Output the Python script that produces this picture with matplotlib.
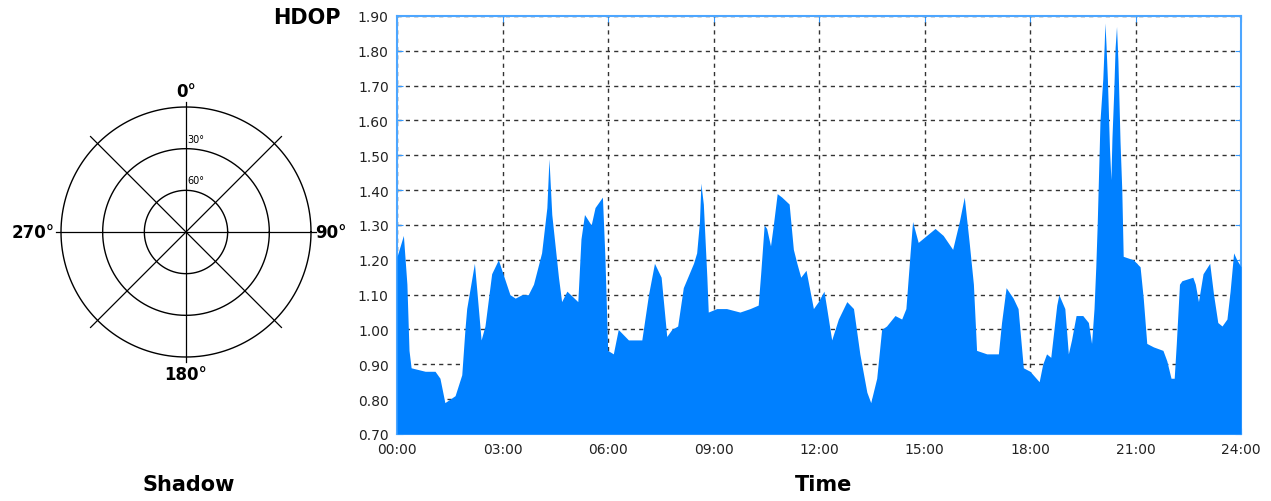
"""
HDOP over one day next to an empty sky-view (shadow) plot.
"""

import numpy as np
import matplotlib
matplotlib.use("Agg")
import matplotlib.pyplot as plt

# time of day in hours and the HDOP read at that time
hours = [0, 0.18, 0.28, 0.34, 0.40, 0.80, 1.08, 1.22, 1.36, 1.65, 1.84, 1.93, 1.98,
         2.20, 2.27, 2.39, 2.50, 2.69, 2.88, 3.21, 3.36, 3.55, 3.73, 3.88, 4.11, 4.26,
         4.32, 4.40, 4.59, 4.68, 4.83, 5.14, 5.23, 5.33, 5.52, 5.63, 5.84, 5.91, 5.99,
         6.15, 6.29, 6.58, 6.77, 6.96, 7.15, 7.32, 7.51, 7.67, 7.81, 7.98, 8.14, 8.43,
         8.52, 8.60, 8.64, 8.71, 8.81, 8.85, 9.09, 9.37, 9.75, 10.04, 10.27, 10.34,
         10.44, 10.51, 10.62, 10.70, 10.81, 10.94, 11.15, 11.27, 11.37, 11.48, 11.63,
         11.84, 11.98, 12.14, 12.22, 12.36, 12.55, 12.79, 12.98, 13.16, 13.36, 13.47,
         13.64, 13.78, 13.92, 14.16, 14.35, 14.47, 14.59, 14.66, 14.82, 15.06, 15.30,
         15.53, 15.80, 15.99, 16.13, 16.27, 16.39, 16.48, 16.77, 17.10, 17.19, 17.32,
         17.52, 17.66, 17.81, 18.00, 18.26, 18.36, 18.47, 18.59, 18.76, 18.82, 18.99,
         19.09, 19.18, 19.31, 19.50, 19.66, 19.75, 19.82, 19.87, 19.91, 19.99, 20.07,
         20.11, 20.13, 20.16, 20.20, 20.26, 20.30, 20.33, 20.38, 20.42, 20.46, 20.50,
         20.56, 20.61, 20.65, 20.94, 21.13, 21.22, 21.32, 21.51, 21.78, 21.89, 22.01,
         22.10, 22.16, 22.25, 22.32, 22.63, 22.70, 22.79, 22.92, 23.11, 23.22, 23.34,
         23.46, 23.60, 23.69, 23.79, 23.88, 24.0]
hdop = [1.21, 1.27, 1.13, 0.94, 0.89, 0.88, 0.88, 0.86, 0.79, 0.81, 0.87, 1.00, 1.06,
        1.19, 1.11, 0.97, 1.01, 1.16, 1.20, 1.10, 1.09, 1.10, 1.10, 1.13, 1.22, 1.35,
        1.49, 1.33, 1.15, 1.08, 1.11, 1.08, 1.26, 1.33, 1.30, 1.35, 1.38, 1.21, 0.94,
        0.93, 1.00, 0.97, 0.97, 0.97, 1.10, 1.19, 1.15, 0.98, 1.00, 1.01, 1.12, 1.19,
        1.22, 1.31, 1.42, 1.36, 1.15, 1.05, 1.06, 1.06, 1.05, 1.06, 1.07, 1.16,
        1.30, 1.29, 1.24, 1.30, 1.39, 1.38, 1.36, 1.23, 1.19, 1.15, 1.17,
        1.06, 1.08, 1.11, 1.06, 0.97, 1.03, 1.08, 1.06, 0.93, 0.82, 0.79,
        0.86, 1.00, 1.01, 1.04, 1.03, 1.06, 1.22, 1.31, 1.25, 1.27, 1.29,
        1.27, 1.23, 1.31, 1.38, 1.25, 1.13, 0.94, 0.93, 0.93, 1.02, 1.12,
        1.09, 1.06, 0.89, 0.88, 0.85, 0.90, 0.93, 0.92, 1.07, 1.10, 1.06,
        0.93, 0.97, 1.04, 1.04, 1.02, 0.96, 1.06, 1.18, 1.30, 1.60, 1.72,
        1.82, 1.88, 1.82, 1.72, 1.52, 1.43, 1.55, 1.68, 1.81, 1.87, 1.77,
        1.54, 1.40, 1.21, 1.20, 1.18, 1.09, 0.96, 0.95, 0.94, 0.91, 0.86,
        0.86, 0.96, 1.13, 1.14, 1.15, 1.13, 1.08, 1.16, 1.19, 1.10, 1.02,
        1.01, 1.03, 1.11, 1.22, 1.20, 1.18]

time_ticks = [0, 3, 6, 9, 12, 15, 18, 21, 24]
time_labels = ["00:00", "03:00", "06:00", "09:00", "12:00", "15:00", "18:00", "21:00", "24:00"]
hdop_ticks = [0.70, 0.80, 0.90, 1.00, 1.10, 1.20, 1.30, 1.40, 1.50, 1.60, 1.70, 1.80, 1.90]

# sky view: elevation rings and azimuth spokes
ring_elevations = [0, 30, 60]
ring_labels = ["30°", "60°"]
spoke_azimuths = [0, 45, 90, 135, 180, 225, 270, 315]


def main():
    fig = plt.figure(figsize=(12.71, 5.02), dpi=100)

    # ---- HDOP chart ----
    ax = fig.add_axes([0.3124, 0.1335, 0.664, 0.8327])
    ax.fill_between(hours, 0.7, hdop, color="#0080ff", linewidth=0, zorder=3)
    ax.set_xlim(0, 24)
    ax.set_ylim(0.7, 1.9)
    ax.set_xticks(time_ticks)
    ax.set_xticklabels(time_labels)
    ax.set_yticks(hdop_ticks)
    ax.set_yticklabels(["%.2f" % v for v in hdop_ticks])
    ax.grid(True, color="#333333", linestyle=(0, (3, 3)), linewidth=1, zorder=1)
    ax.set_axisbelow(True)
    ax.tick_params(direction="in", length=4, color="#3399ff", labelsize=10,
                   labelcolor="#222222", top=True, right=True, pad=6)
    for sp in ax.spines.values():
        sp.set_color("#4da6ff")
        sp.set_linewidth(1.5)
    fig.text(307 / 1271, 1 - 18 / 502, "HDOP", ha="center", va="center",
             fontsize=15, fontweight="bold")
    fig.text(824 / 1271, 1 - 485 / 502, "Time", ha="center", va="center",
             fontsize=15, fontweight="bold")

    # ---- shadow (sky view) ----
    pax = fig.add_axes([26 / 1271, 109 / 502, 320 / 1271, 320 / 502])
    pax.set_xlim(-1.28, 1.28)
    pax.set_ylim(-1.28, 1.28)
    pax.set_aspect("equal")
    pax.axis("off")
    theta = np.linspace(0, 2 * np.pi, 361)
    for el in ring_elevations:
        r = (90 - el) / 90.0
        pax.plot(r * np.cos(theta), r * np.sin(theta), color="black", linewidth=1)
    for az in spoke_azimuths:
        a = np.radians(az)
        reach = 1.04 if az % 90 == 0 else 1.08
        pax.plot([0, reach * np.sin(a)], [0, reach * np.cos(a)], color="black", linewidth=0.9)
    for el, lab in zip(ring_elevations[1:], ring_labels):
        r = (90 - el) / 90.0
        pax.text(0.01, r + 0.08, lab, ha="left", va="center", fontsize=7)
    pax.text(0, 1.13, "0°", ha="center", va="center", fontsize=12, fontweight="bold")
    pax.text(0, -1.14, "180°", ha="center", va="center", fontsize=12, fontweight="bold")
    pax.text(1.03, 0, "90°", ha="left", va="center", fontsize=12, fontweight="bold")
    pax.text(-1.05, 0, "270°", ha="right", va="center", fontsize=12, fontweight="bold")
    fig.text(189 / 1271, 1 - 485 / 502, "Shadow", ha="center", va="center",
             fontsize=15, fontweight="bold")

    fig.savefig("out.png", dpi=100)


if __name__ == "__main__":
    main()
